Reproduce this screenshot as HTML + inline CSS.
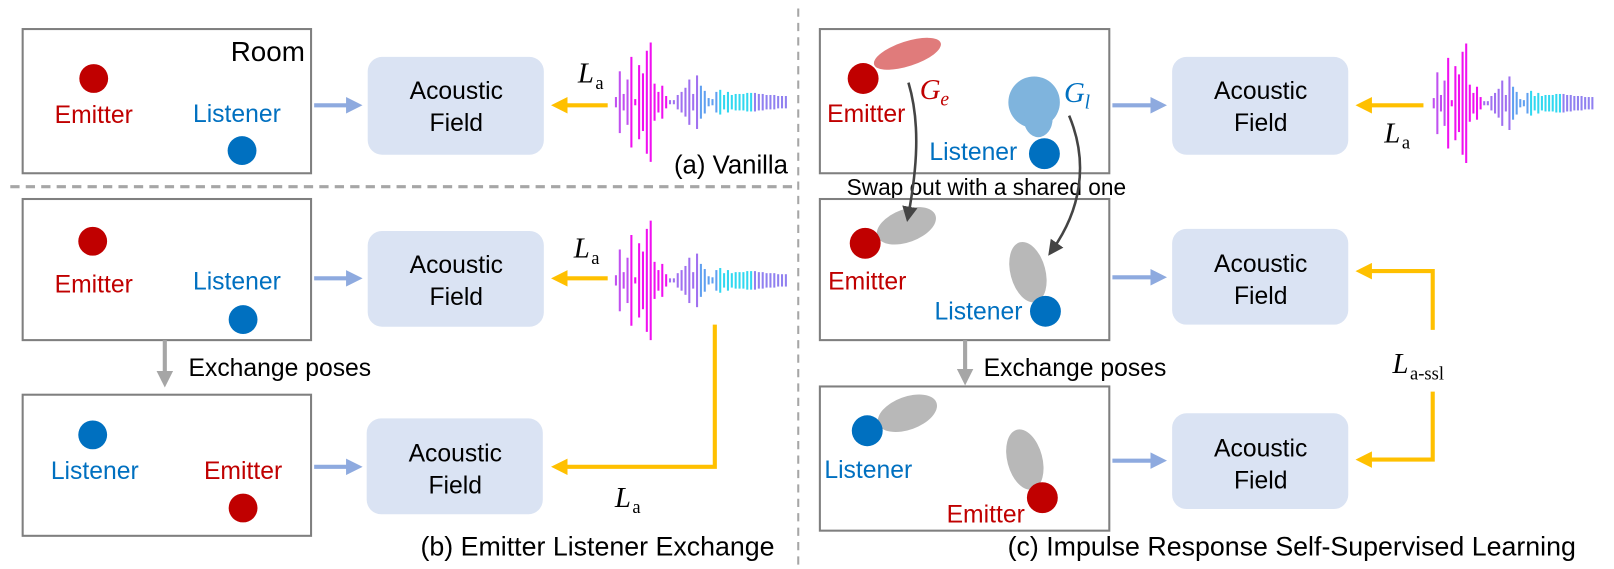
<!DOCTYPE html>
<html><head><meta charset="utf-8"><style>
html,body{margin:0;padding:0;background:#fff;}
svg{display:block;}
text{font-family:"Liberation Sans",sans-serif;}
.m{font-family:"Liberation Serif",serif;}
</style></head><body>
<svg id="fig" width="1614" height="569" viewBox="0 0 1567 552" xmlns="http://www.w3.org/2000/svg">
<defs>
<marker id="ab" markerWidth="4" markerHeight="4" refX="2" refY="2" orient="auto" markerUnits="strokeWidth"><path d="M0,0L4,2L0,4z" fill="#8eaadf"/></marker>
<marker id="ay" markerWidth="4" markerHeight="4" refX="2" refY="2" orient="auto" markerUnits="strokeWidth"><path d="M0,0L4,2L0,4z" fill="#ffc000"/></marker>
<marker id="ag" markerWidth="4" markerHeight="4" refX="2" refY="2" orient="auto" markerUnits="strokeWidth"><path d="M0,0L4,2L0,4z" fill="#a6a6a6"/></marker>
<marker id="ad" markerWidth="6" markerHeight="6" refX="3" refY="3" orient="auto" markerUnits="strokeWidth"><path d="M0,0L6,3L0,6z" fill="#444"/></marker>
</defs>

<line x1="10" y1="181" x2="770" y2="181" stroke="#a6a6a6" stroke-width="3" stroke-dasharray="9,6"/>
<line x1="775" y1="8" x2="775" y2="548" stroke="#a6a6a6" stroke-width="2" stroke-dasharray="8,6"/>

<!-- (a) -->
<g>
<rect x="22" y="28" width="280" height="140" fill="#fff" stroke="#7f7f7f" stroke-width="2"/>
<text x="296" y="59" font-size="27" text-anchor="end">Room</text>
<circle cx="91" cy="76" r="14" fill="#c00000"/>
<text x="91" y="119" font-size="24" fill="#c00000" text-anchor="middle">Emitter</text>
<text x="230" y="118" font-size="24" fill="#0070c0" text-anchor="middle">Listener</text>
<circle cx="235" cy="146" r="14" fill="#0070c0"/>
<line x1="305" y1="102" x2="344" y2="102" stroke="#8eaadf" stroke-width="4" marker-end="url(#ab)"/>
<rect x="357" y="55" width="171" height="95" rx="14" fill="#dae3f3"/>
<text x="443" y="96" font-size="24" text-anchor="middle">Acoustic</text>
<text x="443" y="127" font-size="24" text-anchor="middle">Field</text>
<line x1="590" y1="102" x2="543" y2="102" stroke="#ffc000" stroke-width="4" marker-end="url(#ay)"/>
<text x="561" y="80" font-size="28" class="m" font-style="italic">L</text><text x="578" y="86" font-size="18" class="m">a</text>
<g class="wave" data-x="598" data-y="99" data-s="3.75"></g>
<text x="765" y="168" font-size="25" text-anchor="end">(a) Vanilla</text>
</g>

<!-- (b) -->
<g>
<rect x="22" y="193" width="280" height="137" fill="#fff" stroke="#7f7f7f" stroke-width="2"/>
<circle cx="90" cy="234" r="14" fill="#c00000"/>
<text x="91" y="284" font-size="24" fill="#c00000" text-anchor="middle">Emitter</text>
<text x="230" y="281" font-size="24" fill="#0070c0" text-anchor="middle">Listener</text>
<circle cx="236" cy="310" r="14" fill="#0070c0"/>
<line x1="305" y1="270" x2="344" y2="270" stroke="#8eaadf" stroke-width="4" marker-end="url(#ab)"/>
<rect x="357" y="224" width="171" height="93" rx="14" fill="#dae3f3"/>
<text x="443" y="265" font-size="24" text-anchor="middle">Acoustic</text>
<text x="443" y="296" font-size="24" text-anchor="middle">Field</text>
<line x1="590" y1="270" x2="543" y2="270" stroke="#ffc000" stroke-width="4" marker-end="url(#ay)"/>
<text x="557" y="250" font-size="28" class="m" font-style="italic">L</text><text x="574" y="256" font-size="18" class="m">a</text>
<g class="wave" data-x="598" data-y="272" data-s="3.75"></g>
<polyline points="694,315 694,453 543,453" fill="none" stroke="#ffc000" stroke-width="4" marker-end="url(#ay)"/>
<text x="597" y="492" font-size="28" class="m" font-style="italic">L</text><text x="614" y="498" font-size="18" class="m">a</text>
<line x1="160" y1="330" x2="160" y2="368" stroke="#a6a6a6" stroke-width="4" marker-end="url(#ag)"/>
<text x="183" y="365" font-size="24">Exchange poses</text>
<rect x="22" y="383" width="280" height="137" fill="#fff" stroke="#7f7f7f" stroke-width="2"/>
<circle cx="90" cy="422" r="14" fill="#0070c0"/>
<text x="92" y="465" font-size="24" fill="#0070c0" text-anchor="middle">Listener</text>
<text x="236" y="465" font-size="24" fill="#c00000" text-anchor="middle">Emitter</text>
<circle cx="236" cy="493" r="14" fill="#c00000"/>
<line x1="305" y1="453" x2="344" y2="453" stroke="#8eaadf" stroke-width="4" marker-end="url(#ab)"/>
<rect x="356" y="406" width="171" height="93" rx="14" fill="#dae3f3"/>
<text x="442" y="448" font-size="24" text-anchor="middle">Acoustic</text>
<text x="442" y="479" font-size="24" text-anchor="middle">Field</text>
<text x="752" y="539" font-size="26" text-anchor="end">(b) Emitter Listener Exchange</text>
</g>

<!-- (c) -->
<g>
<rect x="796" y="28" width="281" height="140" fill="#fff" stroke="#7f7f7f" stroke-width="2"/>
<ellipse cx="881" cy="52" rx="34" ry="12" transform="rotate(-18 881 52)" fill="#e07b7b"/>
<circle cx="838" cy="76" r="15" fill="#c00000"/>
<text x="893" y="96" font-size="28" class="m" font-style="italic" fill="#c00000">G</text><text x="913" y="102" font-size="19" class="m" font-style="italic" fill="#c00000">e</text>
<text x="841" y="118" font-size="24" fill="#c00000" text-anchor="middle">Emitter</text>
<circle cx="1004" cy="99" r="25" fill="#7fb4dd"/>
<ellipse cx="1008" cy="115" rx="14" ry="18" fill="#7fb4dd"/>
<circle cx="1014" cy="149" r="15" fill="#0070c0"/>
<text x="1033" y="99" font-size="28" class="m" font-style="italic" fill="#0070c0">G</text><text x="1053" y="105" font-size="19" class="m" font-style="italic" fill="#0070c0">l</text>
<text x="945" y="155" font-size="24" fill="#0070c0" text-anchor="middle">Listener</text>
<line x1="1080" y1="102" x2="1125" y2="102" stroke="#8eaadf" stroke-width="4" marker-end="url(#ab)"/>
<rect x="1138" y="55" width="171" height="95" rx="14" fill="#dae3f3"/>
<text x="1224" y="96" font-size="24" text-anchor="middle">Acoustic</text>
<text x="1224" y="127" font-size="24" text-anchor="middle">Field</text>
<line x1="1382" y1="102" x2="1324" y2="102" stroke="#ffc000" stroke-width="4" marker-end="url(#ay)"/>
<text x="1344" y="138" font-size="28" class="m" font-style="italic">L</text><text x="1361" y="144" font-size="18" class="m">a</text>
<g class="wave" data-x="1392" data-y="100" data-s="3.5"></g>
<text x="822" y="189" font-size="22">Swap out with a shared one</text>
<rect x="796" y="193" width="281" height="137" fill="none" stroke="#7f7f7f" stroke-width="2"/>
<ellipse cx="880" cy="219" rx="30" ry="16" transform="rotate(-20 880 219)" fill="#b8b8b8"/>
<circle cx="840" cy="236" r="15" fill="#c00000"/>
<text x="842" y="281" font-size="24" fill="#c00000" text-anchor="middle">Emitter</text>
<ellipse cx="998" cy="264" rx="17" ry="30" transform="rotate(-15 998 264)" fill="#b8b8b8"/>
<circle cx="1015" cy="302" r="15" fill="#0070c0"/>
<text x="950" y="310" font-size="24" fill="#0070c0" text-anchor="middle">Listener</text>
<path d="M882,80 C894,120 890,165 882,208" fill="none" stroke="#444" stroke-width="2.5" marker-end="url(#ad)"/>
<path d="M1038,112 C1058,160 1048,205 1022,242" fill="none" stroke="#444" stroke-width="2.5" marker-end="url(#ad)"/>
<line x1="1080" y1="269" x2="1125" y2="269" stroke="#8eaadf" stroke-width="4" marker-end="url(#ab)"/>
<rect x="1138" y="222" width="171" height="93" rx="14" fill="#dae3f3"/>
<text x="1224" y="264" font-size="24" text-anchor="middle">Acoustic</text>
<text x="1224" y="295" font-size="24" text-anchor="middle">Field</text>
<polyline points="1391,320 1391,263 1324,263" fill="none" stroke="#ffc000" stroke-width="4" marker-end="url(#ay)"/>
<polyline points="1391,380 1391,446 1324,446" fill="none" stroke="#ffc000" stroke-width="4" marker-end="url(#ay)"/>
<text x="1352" y="362" font-size="28" class="m" font-style="italic">L</text><text x="1369" y="368" font-size="18" class="m">a-ssl</text>
<line x1="937" y1="330" x2="937" y2="366" stroke="#a6a6a6" stroke-width="4" marker-end="url(#ag)"/>
<text x="955" y="365" font-size="24">Exchange poses</text>
<rect x="796" y="375" width="281" height="140" fill="none" stroke="#7f7f7f" stroke-width="2"/>
<ellipse cx="881" cy="401" rx="30" ry="16" transform="rotate(-20 881 401)" fill="#b8b8b8"/>
<circle cx="842" cy="418" r="15" fill="#0070c0"/>
<text x="843" y="464" font-size="24" fill="#0070c0" text-anchor="middle">Listener</text>
<ellipse cx="995" cy="446" rx="17" ry="30" transform="rotate(-15 995 446)" fill="#b8b8b8"/>
<circle cx="1012" cy="483" r="15" fill="#c00000"/>
<text x="957" y="507" font-size="24" fill="#c00000" text-anchor="middle">Emitter</text>
<line x1="1080" y1="447" x2="1125" y2="447" stroke="#8eaadf" stroke-width="4" marker-end="url(#ab)"/>
<rect x="1138" y="401" width="171" height="93" rx="14" fill="#dae3f3"/>
<text x="1224" y="443" font-size="24" text-anchor="middle">Acoustic</text>
<text x="1224" y="474" font-size="24" text-anchor="middle">Field</text>
<text x="1530" y="539" font-size="26" text-anchor="end">(c) Impulse Response Self-Supervised Learning</text>
</g>
</svg>
<script>
const waveAmps = [5,30,8,22,44,3,36,28,50,58,18,10,16,6,2,2,7,10,14,22,8,26,16,11,4,3,10,12,7,10,7,8,8,8,9,9,9,8,8,7,7,7,6,6,6];
const NS = 'http://www.w3.org/2000/svg';
document.querySelectorAll('g.wave').forEach(function(g){
  
  
  const x0 = +g.dataset.x, cy = +g.dataset.y, s = +g.dataset.s;
  const n = waveAmps.length;
  waveAmps.forEach(function(a,i){
    const l = document.createElementNS(NS,'line');
    
    
    const x = x0 + i*s;
    l.setAttribute('x1',x); l.setAttribute('x2',x);
    l.setAttribute('y1',cy-a); l.setAttribute('y2',cy+a);
    const t = i/(n-1);
    let c;
    if (t<0.08) c='#c050f0'; else if (t<0.3) c='#f010f0'; else if (t<0.5) c='#a070f0'; else if (t<0.6) c='#60a0f0'; else if (t<0.8) c='#30d8f0'; else c='#9080f0';
    l.setAttribute('stroke',c);
    l.setAttribute('stroke-width','2');
    g.appendChild(l);
  });
});
</script>
</body></html>
